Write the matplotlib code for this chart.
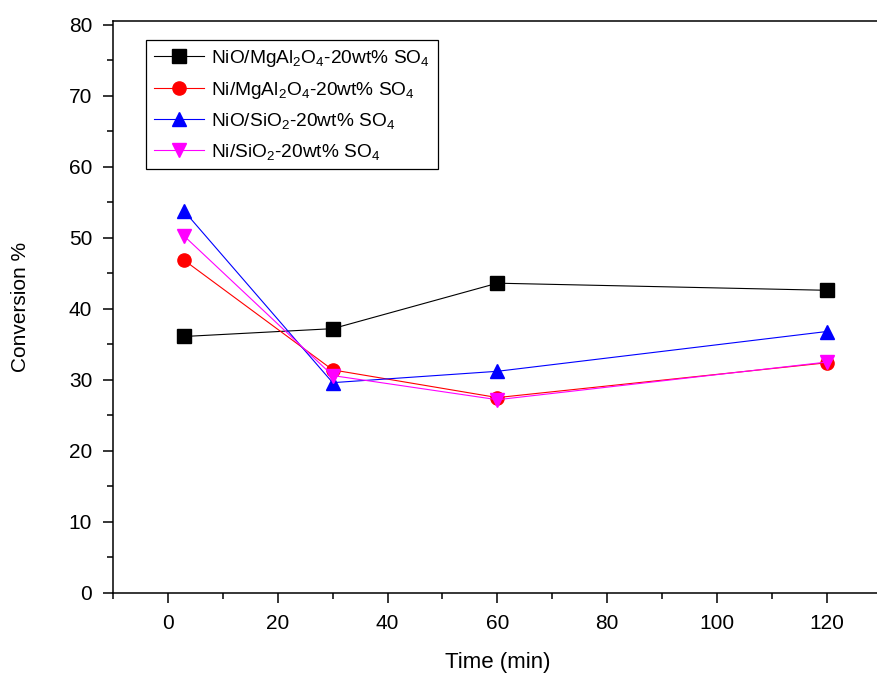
import matplotlib.pyplot as plt
from matplotlib.ticker import MultipleLocator

plt.rcParams['font.family'] = ['Liberation Sans', 'DejaVu Sans']
plt.rcParams['mathtext.fontset'] = 'custom'
plt.rcParams['mathtext.rm'] = 'Liberation Sans'
plt.rcParams['mathtext.it'] = 'Liberation Sans'

# datos
time = [3, 30, 60, 120]
nio_mgal = [36.1, 37.2, 43.6, 42.6]
ni_mgal = [46.8, 31.4, 27.5, 32.4]
nio_sio2 = [53.7, 29.6, 31.2, 36.8]
ni_sio2 = [50.2, 30.6, 27.2, 32.5]

labels = [r'NiO/MgAl$_2$O$_4$-20wt% SO$_4$',
          r'Ni/MgAl$_2$O$_4$-20wt% SO$_4$',
          r'NiO/SiO$_2$-20wt% SO$_4$',
          r'Ni/SiO$_2$-20wt% SO$_4$']
colors = ['black', 'red', 'blue', 'magenta']
markers = ['s', 'o', '^', 'v']

fig = plt.figure(figsize=(8.77, 6.75), dpi=100)
# eje derecho queda justo fuera de la imagen
ax = fig.add_axes([0.1289, 0.1215, 0.8765, 0.8474])

for ys, lab, c, m in zip([nio_mgal, ni_mgal, nio_sio2, ni_sio2], labels, colors, markers):
    ax.plot(time, ys, color=c, marker=m, markersize=9.5, linewidth=0.8, label=lab)

ax.set_xlim(-10, 130)
ax.set_ylim(0, 80.5)
ax.xaxis.set_major_locator(MultipleLocator(20))
ax.xaxis.set_minor_locator(MultipleLocator(10))
ax.yaxis.set_major_locator(MultipleLocator(10))
ax.yaxis.set_minor_locator(MultipleLocator(5))
ax.tick_params(which='major', direction='out', length=7, width=1.1, labelsize=15, pad=8)
ax.tick_params(which='minor', direction='out', length=4, width=1.1)
for s in ax.spines.values():
    s.set_linewidth(1.1)

ax.set_xlabel('Time (min)', fontsize=16, labelpad=14)
ax.set_ylabel('Conversion %', fontsize=15, labelpad=28)

leg = ax.legend(loc='upper left', bbox_to_anchor=(0.043, 0.966), fontsize=13.8,
                fancybox=False, edgecolor='black', framealpha=1,
                handlelength=2.6, handletextpad=0.4, labelspacing=0.55,
                borderpad=0.4, borderaxespad=0)
leg.get_frame().set_linewidth(0.9)

fig.savefig('out.png', dpi=100)
